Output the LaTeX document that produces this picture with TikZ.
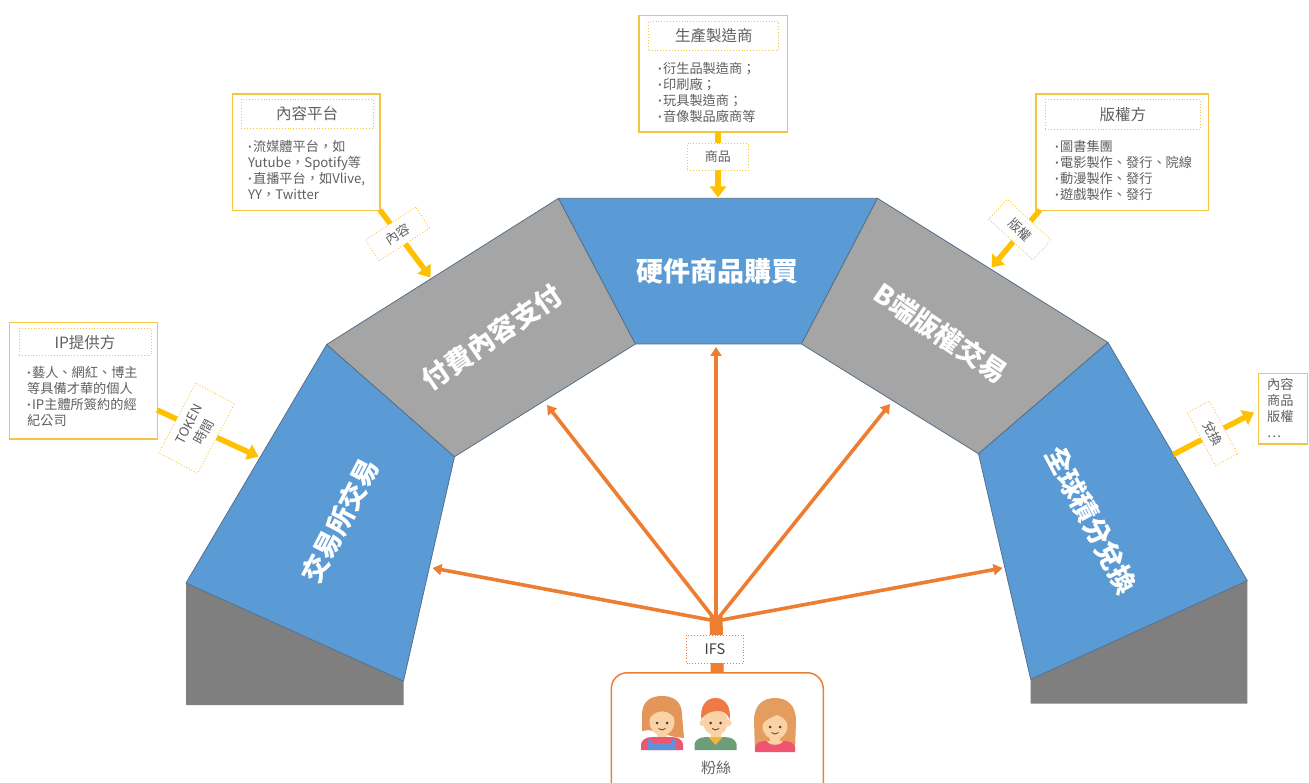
\documentclass[tikz,border=0pt]{standalone}
\usepackage{fontspec}
\setmainfont{Noto Sans CJK TC}
\newfontfamily\latinfont{Liberation Sans}
\newcommand\bul{{\latinfont\bfseries ·\kern0.5pt}}
\usetikzlibrary{arrows.meta}

\definecolor{segblue}{HTML}{5B9BD5}
\definecolor{seggrey}{HTML}{A5A5A5}
\definecolor{basegrey}{HTML}{7F7F7F}
\definecolor{segedge}{HTML}{56708A}
\definecolor{gold}{HTML}{FFC000}
\definecolor{boxgold}{HTML}{F6C443}
\definecolor{ifsorange}{HTML}{ED7D31}
\definecolor{txtgrey}{HTML}{5F5F5F}
\definecolor{skin}{HTML}{F9D2A6}
\definecolor{eyecol}{HTML}{5A3E36}
\definecolor{hairA}{HTML}{E3955A}
\definecolor{hairB}{HTML}{EF7A45}
\definecolor{hairC}{HTML}{E49D5E}
\definecolor{overall}{HTML}{5E93D8}
\definecolor{shirtpink}{HTML}{EF5570}
\definecolor{shirtgreen}{HTML}{6E9E78}
\definecolor{collar}{HTML}{F5B633}

\begin{document}
\begin{tikzpicture}[x=1pt,y=-1pt,
  segment/.style={draw=segedge,line width=0.8pt,line join=round},
  segtext/.style={text=white,font=\fontsize{27}{27}\selectfont\bfseries,inner sep=0},
  infobox/.style={draw=boxgold,line width=1.5pt,fill=white,anchor=north west,inner sep=0},
  titlebox/.style={draw=boxgold,dotted,line width=0.9pt,text=txtgrey,
    font=\fontsize{15.5}{16}\selectfont,inner sep=0,anchor=north west},
  bodytext/.style={text=txtgrey,font=\fontsize{13.2}{16}\selectfont,align=left,
    anchor=north west,inner sep=0},
  tagbox/.style={draw=boxgold,dotted,line width=0.9pt,fill=white,text=txtgrey,
    font=\fontsize{13}{17}\selectfont,align=center,inner sep=0,
    minimum width=60pt,minimum height=25pt},
  yarrow/.style={draw=gold,line width=5.5pt,-{Triangle[length=11pt,width=16pt]}},
  oarrow/.style={draw=ifsorange,line width=3.6pt,-{Triangle[length=9pt,width=11pt]}}]

\useasboundingbox (0,0) rectangle (1309,783);
\clip (0,0) rectangle (1309,783);

% ---- corner points of the arch ----
\coordinate (L1) at (186,583);
\coordinate (L2) at (403.5,681);
\coordinate (L3) at (454.5,456.7);
\coordinate (L4) at (326.7,344.5);
\coordinate (T1) at (558.5,198.3);
\coordinate (T2) at (635.5,344);
\coordinate (T3) at (877.5,198.3);
\coordinate (T4) at (801.5,344);
\coordinate (R1) at (1108,342.5);
\coordinate (R2) at (978.5,453.8);
\coordinate (R3) at (1247.3,580.7);
\coordinate (R4) at (1030.7,679.3);

% bases under the two legs
\fill[basegrey] (L1) -- (L2) -- (403.5,705) -- (186,705) -- cycle;
\fill[basegrey] (R4) -- (R3) -- (1247.3,703.5) -- (1030.7,703.5) -- cycle;

% the five blocks of the arch
\filldraw[segment,fill=segblue] (L4) -- (L3) -- (L2) -- (L1) -- cycle;
\filldraw[segment,fill=seggrey] (L4) -- (T1) -- (T2) -- (L3) -- cycle;
\filldraw[segment,fill=segblue] (T1) -- (T3) -- (T4) -- (T2) -- cycle;
\filldraw[segment,fill=seggrey] (T3) -- (R1) -- (R2) -- (T4) -- cycle;
\filldraw[segment,fill=segblue] (R1) -- (R3) -- (R4) -- (R2) -- cycle;

\node[segtext,rotate=62.8] (exch) at (340,521) {交易所交易};
\node[segtext,rotate=34.3] (paid) at (492,337) {付費內容支付};
\node[segtext] (goods) at (717.5,271.5) {硬件商品購買};
\node[segtext,rotate=-34] (btob) at (941,333) {B端版權交易};
\node[segtext,rotate=-62] (points) at (1091,520) {全球積分兌換};

% ---- IP provider ----
\node[infobox,minimum width=148pt,minimum height=116.5pt] (ip) at (8.5,321.7) {};
\node[titlebox,minimum width=132pt,minimum height=27pt] (iptitle) at (18.5,328.3) {IP提供方};
\node[bodytext] (ipbody) at (27,366.4) {\bul 藝人、網紅、博主\\等具備才華的個人\\\bul IP主體所簽約的經\\紀公司};
\coordinate (ipOut) at (157,410);
\coordinate (ipIn) at (258.5,456.7);
\draw[yarrow] (ipOut) -- (ipIn);
\node[tagbox,rotate=62,minimum width=79pt,minimum height=44pt] (tagtoken) at (196.7,428.3) {TOKEN\\時間};

% ---- content platforms ----
\node[infobox,minimum width=147.5pt,minimum height=116.5pt] (content) at (231.7,93.5) {};
\node[titlebox,minimum width=132pt,minimum height=29pt] (contenttitle) at (240.7,99) {內容平台};
\node[bodytext] (contentbody) at (248,140) {\bul 流媒體平台，如\\Yutube，Spotify等\\\bul 直播平台，如Vlive,\\YY，Twitter};
\coordinate (contentOut) at (380,210);
\coordinate (contentIn) at (430.5,277.5);
\draw[yarrow] (contentOut) -- (contentIn);
\node[tagbox,rotate=33] (tagcontent) at (397.5,234) {內容};

% ---- manufacturers ----
\node[infobox,minimum width=148.5pt,minimum height=116.5pt] (maker) at (638.3,15) {};
\node[titlebox,minimum width=130pt,minimum height=29pt] (makertitle) at (648.3,21) {生產製造商};
\node[bodytext] (makerbody) at (658,61.7) {\bul 衍生品製造商；\\\bul 印刷廠；\\\bul 玩具製造商；\\\bul 音像製品廠商等};
\coordinate (makerOut) at (718,131.5);
\coordinate (makerIn) at (718,197.5);
\draw[yarrow] (makerOut) -- (makerIn);
\node[tagbox,minimum width=61pt,minimum height=27pt] (taggoods) at (717.8,157) {商品};

% ---- copyright holders ----
\node[infobox,minimum width=172.5pt,minimum height=116.5pt] (rights) at (1035,93.5) {};
\node[titlebox,minimum width=155pt,minimum height=30pt] (rightstitle) at (1045,99) {版權方};
\node[bodytext] (rightsbody) at (1055,140) {\bul 圖書集團\\\bul 電影製作、發行、院線\\\bul 動漫製作、發行\\\bul 遊戲製作、發行};
\coordinate (rightsOut) at (1040,210);
\coordinate (rightsIn) at (991.5,267.5);
\draw[yarrow] (rightsOut) -- (rightsIn);
\node[tagbox,rotate=-43,minimum height=27pt] (tagrights) at (1020,229.6) {版權};

% ---- redemption output ----
\node[infobox,minimum width=49pt,minimum height=70.5pt] (output) at (1257.7,372.7) {};
\node[bodytext] (outputbody) at (1267,378.4) {內容\\商品\\版權\\…};
\coordinate (pointsOut) at (1173.3,454.5);
\coordinate (pointsIn) at (1254,412.5);
\draw[yarrow] (pointsOut) -- (pointsIn);
\node[tagbox,rotate=-62] (tagexchange) at (1212.5,433.3) {兌換};

% ---- fans and the IFS fan-out ----
\node[draw=ifsorange,line width=1.5pt,rounded corners=16pt,anchor=north west,
  minimum width=212pt,minimum height=130pt,inner sep=0] (fans) at (610.5,672) {};
\coordinate (hub) at (716,621);
\draw[ifsorange,line width=13pt] (716,616) -- (fans.north);
\coordinate (aExch) at (432.5,568);
\coordinate (aPaid) at (547,405);
\coordinate (aGoods) at (716,347);
\coordinate (aBtoB) at (890,404);
\coordinate (aPoints) at (1002.5,568);
\foreach \t in {aExch,aPaid,aGoods,aBtoB,aPoints}
  \draw[oarrow] (hub) -- (\t);
\node[draw=ifsorange,dotted,line width=0.9pt,fill=white,text=black!75,
  font=\fontsize{14.5}{15}\selectfont,minimum width=57pt,minimum height=28pt,inner sep=0]
  (ifs) at (715,649) {IFS};

% girl with bob hair and overalls
\begin{scope}[shift={(662,721)}]
  \fill[hairA] (-20,10) -- (-20,-6) .. controls (-20,-21) and (-10,-25) .. (0,-25)
    .. controls (11,-25) and (20,-20) .. (20,-6) -- (22,17) -- (13,16) -- (-13,9) -- cycle;
  \fill[skin] (-5,8) rectangle (5,18);
  \fill[shirtpink] (-21,29) -- (-21,23) .. controls (-20,18) and (-15,16) .. (-9,16)
    -- (9,16) .. controls (15,16) and (20,18) .. (21,23) -- (21,29) -- cycle;
  \fill[overall] (-14,29) -- (-14,19) -- (-10,19) -- (-10,22) -- (10,22) -- (10,19)
    -- (14,19) -- (14,29) -- cycle;
  \fill[skin] (0,1) ellipse (12.5 and 13.5);
  \fill[hairA] (-13,-2) .. controls (-14,-15) and (-6,-18) .. (1,-17)
    .. controls (9,-16) and (14,-11) .. (13,-2) .. controls (9,-9) and (2,-11) .. (-4,-9)
    .. controls (-8,-8) and (-11,-5) .. (-13,-2) -- cycle;
  \fill[eyecol] (-5,2) circle (1.5) (5,2) circle (1.5);
  \draw[eyecol,line width=0.8pt] (-3.5,7.5) .. controls (-1.5,9.5) and (1.5,9.5) .. (3.5,7.5);
\end{scope}

% boy with short red hair
\begin{scope}[shift={(715.5,721)}]
  \fill[skin] (-5,8) rectangle (5,18);
  \fill[shirtgreen] (-21,29) -- (-21,23) .. controls (-20,18) and (-15,16) .. (-8,16)
    -- (8,16) .. controls (15,16) and (20,18) .. (21,23) -- (21,29) -- cycle;
  \fill[collar] (-7,16) -- (7,16) -- (0,24) -- cycle;
  \fill[skin] (-13,2) circle (3) (13,2) circle (3);
  \fill[skin] (0,1) ellipse (12.5 and 13.5);
  \fill[hairB] (-14,-1) .. controls (-16,-14) and (-10,-23) .. (0,-23)
    .. controls (10,-23) and (16,-14) .. (14,-1) .. controls (12,-8) and (8,-10) .. (3,-10)
    .. controls (-4,-10) and (-11,-8) .. (-14,-1) -- cycle;
  \fill[eyecol] (-5,2) circle (1.5) (5,2) circle (1.5);
  \draw[eyecol,line width=0.8pt] (-3.5,7.5) .. controls (-1.5,9.5) and (1.5,9.5) .. (3.5,7.5);
\end{scope}

% girl with long hair
\begin{scope}[shift={(775,725)}]
  \fill[hairC] (-20,26) -- (-21,-4) .. controls (-21,-21) and (-11,-27) .. (0,-27)
    .. controls (11,-27) and (21,-21) .. (21,-4) -- (20,26) -- cycle;
  \fill[skin] (-5,8) rectangle (5,18);
  \fill[shirtpink] (-20,27) -- (-20,22) .. controls (-19,18) and (-15,16) .. (-9,16)
    -- (9,16) .. controls (15,16) and (19,18) .. (20,22) -- (20,27) -- cycle;
  \fill[skin] (-8,16) .. controls (-6,21) and (6,21) .. (8,16) -- cycle;
  \fill[skin] (0,1) ellipse (12.5 and 13.5);
  \fill[hairC] (-13,0) .. controls (-14,-14) and (-6,-17) .. (2,-17)
    .. controls (10,-17) and (14,-11) .. (13,0) .. controls (10,-7) and (6,-9) .. (2,-10)
    .. controls (-4,-8) and (-10,-5) .. (-13,0) -- cycle;
  \fill[eyecol] (-5,2) circle (1.5) (5,2) circle (1.5);
  \draw[eyecol,line width=0.8pt] (-3.5,7.5) .. controls (-1.5,9.5) and (1.5,9.5) .. (3.5,7.5);
\end{scope}

\node[text=txtgrey,font=\fontsize{15}{15}\selectfont,inner sep=0] (fanlabel) at (716,768) {粉絲};

\end{tikzpicture}
\end{document}
